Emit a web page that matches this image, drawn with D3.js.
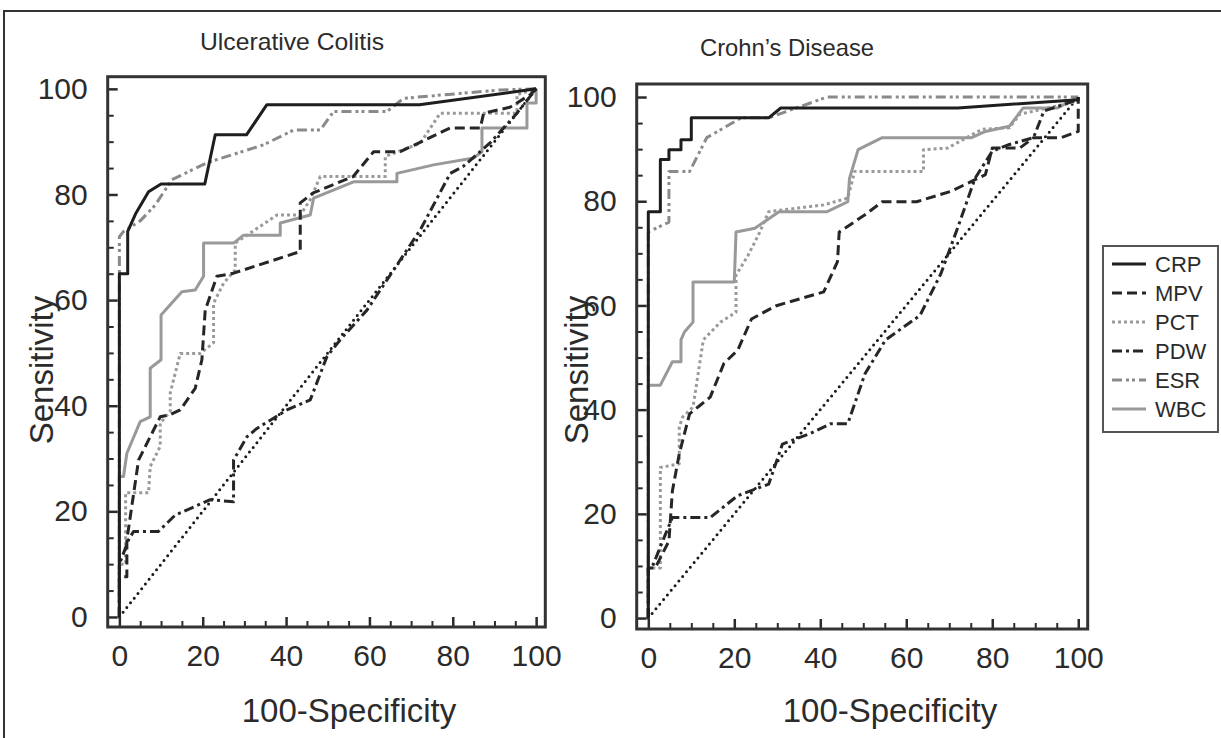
<!DOCTYPE html>
<html>
<head>
<meta charset="utf-8">
<script src="https://cdn.jsdelivr.net/npm/d3@7"></script>
<style>
  body { margin: 0; background: #fff; }
  svg { display: block; font-family: "Liberation Sans", Arial, sans-serif; }
</style>
</head>
<body>
<div id="chart"></div>
<script>
// ---- data (x = 100-Specificity, y = Sensitivity) ----
const seriesNames = ["CRP", "MPV", "PCT", "PDW", "ESR", "WBC"]
const xTicks = [0, 20, 40, 60, 80, 100]
const yTicks = [0, 20, 40, 60, 80, 100]
const chance = [[0, 0], [100, 100]]

const ucCRP = [[0,0],[0,65],[2,65],[2,73],[4,76.5],[7,80.5],[10,82],[20.5,82],[23,91.3],[30.5,91.3],[35.4,97],[72,97],[100,100]]
const ucMPV = [[0,0],[0,7.6],[1.8,7.6],[1.8,14.6],[4.6,29.7],[9.8,37.9],[12.2,38.3],[14.6,39.2],[18.2,43.3],[19.8,48.7],[20.6,58.1],[23.4,64.5],[27.4,65.1],[43.4,69.2],[43.4,78.4],[46.5,80.3],[56.1,83.4],[61,88.1],[67.4,88.1],[79.4,92.6],[86.6,92.6],[87.4,95.4],[93.7,96.5],[98.6,98.9],[100,100]]
const ucPCT = [[0,0],[0,10],[1.5,10],[1.5,23.5],[7,23.5],[7.4,28.5],[9.8,32.3],[9.8,36.7],[12.2,38.9],[12.2,42.4],[14.6,49.9],[19.4,49.9],[22.6,51.9],[22.6,59.4],[25,63.2],[27.8,65.7],[27.8,70.8],[37.8,76.1],[43.4,76.1],[45.8,79],[48.2,83.4],[63.8,83.4],[63.8,87.2],[72.2,89.7],[77,95.4],[95.4,95.4],[95.4,98.9],[100,100]]
const ucPDW = [[0,0],[0,10],[2.2,14.6],[3.4,16.2],[9.4,16.2],[13.4,19.3],[21.8,22.2],[27.4,21.8],[27.4,29.7],[30.6,34.1],[33,35.7],[40.2,39.2],[45.8,41.1],[49.8,49.3],[53,52.5],[59.4,58.1],[72.2,73.3],[79.4,84],[82.5,85.3],[89,89.8],[95.4,95.4],[100,100]]
const ucESR = [[0,0],[0,72],[1,73],[5,75],[8.6,78],[12.6,82.8],[21,86],[34.6,89.4],[41.8,92.2],[48.2,92.2],[51.4,95.7],[64.2,95.7],[68.2,98.2],[91.4,99.8],[100,100]]
const ucWBC = [[0,0],[0,26.6],[1,26.6],[1.8,31],[5,37],[7.4,37.9],[7.4,47.1],[10,48.7],[10,57.2],[15,61.6],[18.2,61.9],[20.2,64.5],[20.2,70.8],[27.4,70.8],[29.8,72.3],[38.6,72.3],[38.6,74.6],[45.8,76.1],[46.6,79.3],[56.2,82.4],[66.6,82.4],[66.6,84],[75.4,85.6],[85,86.9],[87,88.1],[87,92.6],[97.8,92.6],[97.8,97.3],[100,97.3],[100,100]]

const cdCRP = [[0,0],[0,78],[2.8,78],[2.8,88],[4.8,88],[4.8,89.9],[7.6,89.9],[7.6,91.8],[10,91.8],[10,96],[28,96],[30.8,97.9],[72,97.9],[100,99.5],[100,100]]
const cdMPV = [[0,0],[0,9.6],[1.6,9.6],[4.8,14.8],[5.6,24.4],[7.2,31.5],[9.6,39.2],[12,40.8],[14.4,42.4],[17.6,48.9],[20.8,51.4],[24,57.4],[29.6,59.9],[40.8,62.6],[44,68.4],[44.4,74.1],[50.4,77.4],[54.4,79.9],[62.4,79.9],[70.4,81.9],[78.4,85.1],[80,90.2],[86.4,90.2],[89.6,92.2],[96,92.2],[100,93.4],[100,100]]
const cdPCT = [[0,0],[0,9.6],[2.8,9.6],[2.8,28.9],[7.2,29.6],[7.2,36.7],[8,38.6],[10.4,40.5],[12.8,53.4],[16.8,56.8],[20.4,58.7],[20.4,65.8],[23.2,69.6],[25.6,73.5],[28,78],[40.8,79.3],[46.4,80.6],[48,85.7],[64,85.7],[64,89.9],[69.6,90.2],[77.6,93.8],[84,94.1],[86.4,96.7],[100,99.2],[100,100]]
const cdPDW = [[0,0],[0,9.6],[0.8,9.6],[4,16.1],[5.6,19.3],[14.4,19.3],[20.8,23.5],[28,25.7],[31.2,33.4],[37.6,35.4],[42.4,37.3],[46.4,37.3],[50.4,46.9],[55.2,53.4],[63.2,58.1],[68,66],[72,75],[76,84.4],[80,89.6],[84,90.9],[89.6,92.2],[92,97.3],[100,99.5],[100,100]]
const cdESR = [[0,0],[0,74.1],[4.8,76],[4.8,85.7],[9.6,85.7],[13.6,92.2],[21.6,96],[28,96],[34.4,97.9],[41.6,100],[100,100]]
const cdWBC = [[0,0],[0,44.7],[2.8,44.7],[5.6,49.2],[7.6,49.2],[7.6,53.4],[8.4,54.9],[10.4,56.8],[10.4,64.5],[20,64.5],[20.4,74.1],[24.8,74.8],[30.4,78],[41.6,78],[46.4,79.9],[46.8,84.4],[48.8,89.9],[54.4,92.2],[75.2,92.2],[78.4,93.4],[84,94.4],[87.2,97.9],[95.2,97.9],[100,100]]

// ---- styles ----
const styles = {
  CRP: {stroke: "#1e1e1e", dash: null},
  MPV: {stroke: "#262626", dash: "10,5"},
  PCT: {stroke: "#9a9a9a", dash: "3,3"},
  PDW: {stroke: "#262626", dash: "10,4,3,4"},
  ESR: {stroke: "#8a8a8a", dash: "10,4,3,3,3,4"},
  WBC: {stroke: "#999999", dash: null}
}

const panels = [
  {
    title: "Ulcerative Colitis", titleX: 292, titleY: 50, titleW: 184,
    box: {left: 107.7, right: 545.3, top: 76.7, bottom: 627},
    xDomain: [-2.8, 102.2], yDomain: [-1.9, 102.3],
    ylabX: 42, xlabX: 349,
    series: {CRP: ucCRP, MPV: ucMPV, PCT: ucPCT, PDW: ucPDW, ESR: ucESR, WBC: ucWBC}
  },
  {
    title: "Crohn\u2019s Disease", titleX: 787, titleY: 56, titleW: 174,
    box: {left: 636.7, right: 1087.7, top: 84, bottom: 629},
    xDomain: [-2.7, 102.2], yDomain: [-2.1, 102.5],
    ylabX: 577, xlabX: 890,
    series: {CRP: cdCRP, MPV: cdMPV, PCT: cdPCT, PDW: cdPDW, ESR: cdESR, WBC: cdWBC}
  }
]

const width = 1221
const height = 738
const ink = "#2b2b2b"

const svg = d3.select("#chart").append("svg")
  .attr("width", width)
  .attr("height", height)

// outer frame
svg.append("path")
  .attr("d", `M4,${height} V11 H${width}`)
  .attr("fill", "none")
  .attr("stroke", "#333")
  .attr("stroke-width", 2)

panels.forEach(p => {
  const b = p.box
  const x = d3.scaleLinear().domain(p.xDomain).range([b.left, b.right])
  const y = d3.scaleLinear().domain(p.yDomain).range([b.bottom, b.top])

  const g = svg.append("g")

  g.append("text")
    .attr("x", p.titleX).attr("y", p.titleY)
    .attr("text-anchor", "middle")
    .attr("font-family", "'Liberation Sans Narrow', 'Arial Narrow', 'Liberation Sans', sans-serif")
    .attr("font-size", 24)
    .attr("textLength", p.titleW)
    .attr("lengthAdjust", "spacingAndGlyphs")
    .attr("fill", ink)
    .text(p.title)

  const line = d3.line()
    .x(d => x(d[0]))
    .y(d => y(d[1]))

  // chance line
  g.append("path")
    .datum(chance)
    .attr("fill", "none")
    .attr("stroke", "#1a1a1a")
    .attr("stroke-width", 3)
    .attr("stroke-dasharray", "0,6")
    .attr("stroke-linecap", "round")
    .attr("d", line)

  // draw gray ones first, black on top
  const order = ["WBC", "ESR", "PCT", "PDW", "MPV", "CRP"]
  order.forEach(name => {
    const s = styles[name]
    g.append("path")
      .datum(p.series[name])
      .attr("fill", "none")
      .attr("stroke", s.stroke)
      .attr("stroke-width", 3)
      .attr("stroke-linejoin", "round")
      .attr("stroke-dasharray", s.dash)
      .attr("d", line)
  })

  // minor ticks every 5
  const minor = d3.range(0, 101, 5).filter(v => v % 20 !== 0)

  const xAxis = d3.axisBottom(x).tickValues(xTicks).tickSizeInner(-10).tickSizeOuter(0).tickPadding(18)
  const yAxis = d3.axisLeft(y).tickValues(yTicks).tickSizeInner(-10).tickSizeOuter(0).tickPadding(20)

  const gx = g.append("g")
    .attr("transform", `translate(0,${b.bottom})`)
    .call(xAxis)
    .attr("font-family", null)
    .call(a => a.select(".domain").remove())
  gx.selectAll(".tick line").attr("stroke", ink).attr("stroke-width", 2.5)
  gx.selectAll(".tick text").attr("font-size", 30).attr("fill", ink).attr("dy", "0.71em")

  g.append("g")
    .attr("transform", `translate(0,${b.bottom})`)
    .call(d3.axisBottom(x).tickValues(minor).tickSize(-6).tickFormat(""))
    .call(a => a.select(".domain").remove())
    .selectAll(".tick line").attr("stroke", ink).attr("stroke-width", 2)

  const gy = g.append("g")
    .attr("transform", `translate(${b.left},0)`)
    .call(yAxis)
    .attr("font-family", null)
    .call(a => a.select(".domain").remove())
  gy.selectAll(".tick line").attr("stroke", ink).attr("stroke-width", 2.5)
  gy.selectAll(".tick text").attr("font-size", 30).attr("fill", ink)

  g.append("g")
    .attr("transform", `translate(${b.left},0)`)
    .call(d3.axisLeft(y).tickValues(minor).tickSize(-6).tickFormat(""))
    .call(a => a.select(".domain").remove())
    .selectAll(".tick line").attr("stroke", ink).attr("stroke-width", 2)

  // frame box
  g.append("rect")
    .attr("x", b.left).attr("y", b.top)
    .attr("width", b.right - b.left).attr("height", b.bottom - b.top)
    .attr("fill", "none")
    .attr("stroke", "#333")
    .attr("stroke-width", 3)

  // axis titles
  g.append("text")
    .attr("x", p.xlabX).attr("y", 722)
    .attr("text-anchor", "middle")
    .attr("font-size", 33)
    .attr("fill", ink)
    .text("100-Specificity")

  g.append("text")
    .attr("transform", `translate(${p.ylabX + 11},370) rotate(-90)`)
    .attr("text-anchor", "middle")
    .attr("font-size", 33)
    .attr("fill", ink)
    .text("Sensitivity")
})

// legend
const legend = svg.append("g")
legend.append("rect")
  .attr("x", 1103).attr("y", 246)
  .attr("width", 115).attr("height", 186)
  .attr("fill", "#fff")
  .attr("stroke", "#555")
  .attr("stroke-width", 2)

const ly = d3.scalePoint().domain(seriesNames).range([264, 409])
seriesNames.forEach(name => {
  const s = styles[name]
  legend.append("line")
    .attr("x1", 1112).attr("x2", 1146)
    .attr("y1", ly(name)).attr("y2", ly(name))
    .attr("stroke", s.stroke)
    .attr("stroke-width", 3)
    .attr("stroke-dasharray", s.dash)
  legend.append("text")
    .attr("x", 1155).attr("y", ly(name))
    .attr("dy", "0.36em")
    .attr("font-size", 22)
    .attr("fill", ink)
    .text(name)
})
</script>
</body>
</html>
